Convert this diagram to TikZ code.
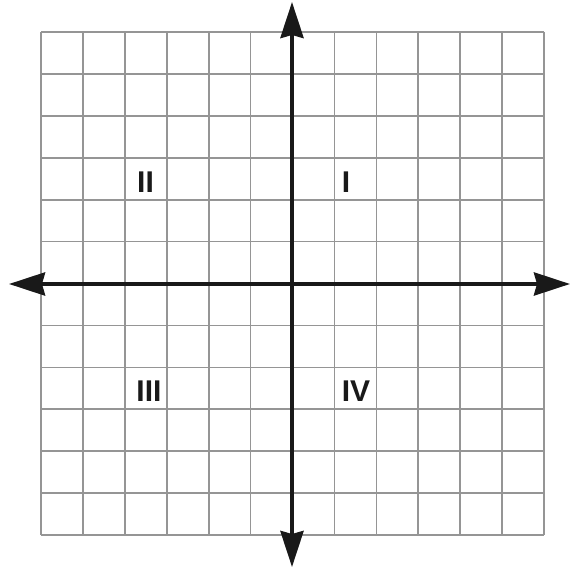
\documentclass[tikz,border=0pt]{standalone}
\usepackage{fontspec}
\setmainfont{Liberation Sans}
\usetikzlibrary{arrows.meta}
\definecolor{gridgray}{HTML}{959595}
\begin{document}
\begin{tikzpicture}[x=1pt,y=-1pt,
  gridline/.style={draw=gridgray,line width=1.7pt},
  axisline/.style={draw=black!90,line width=4pt,{Stealth[length=36pt,width=23pt,inset=3pt]}-{Stealth[length=36pt,width=23pt,inset=3pt]}},
  quad/.style={font=\fontsize{30}{30}\selectfont\bfseries,inner sep=0pt,text=black!90}]
\useasboundingbox (0,0) rectangle (571,569);
\fill[white] (0,0) rectangle (571,569);
\foreach \i in {0,...,12}{
  \draw[gridline] ({41+\i*41.92},32) -- ({41+\i*41.92},535);
  \draw[gridline] (41,{32+\i*41.92}) -- (544,{32+\i*41.92});
}
\coordinate (xl) at (9,284);
\coordinate (xr) at (570,284);
\coordinate (yt) at (292,2);
\coordinate (yb) at (292,567);
\draw[axisline] (xl) -- (xr);
\draw[axisline] (yt) -- (yb);
\node[quad] (q2) at (145.5,182.5) {II};
\node[quad] (q1) at (346,182.5) {I};
\node[quad] (q3) at (149,391.3) {III};
\node[quad] (q4) at (356,391.3) {IV};
\end{tikzpicture}
\end{document}
